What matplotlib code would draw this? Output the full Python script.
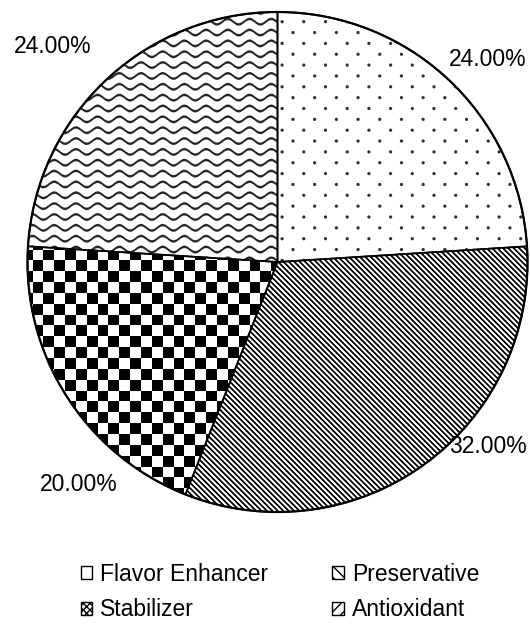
import numpy as np
import matplotlib.pyplot as plt
from matplotlib.patches import Patch, Circle

# slice data
categories = ["Flavor Enhancer", "Preservative", "Stabilizer", "Antioxidant"]
shares = [24.0, 32.0, 20.0, 24.0]

# label placement: angle shift from slice middle (deg), distance from centre (px)
label_shift = [-2.8, 12.7, 15.8, 3.0]
label_dist = [292, 280, 298, 312]

W, H = 530, 626
plt.rcParams['font.family'] = ['Liberation Sans', 'DejaVu Sans']
FS = 16.5

fig = plt.figure(figsize=(W / 100, H / 100), dpi=100)
ax = fig.add_axes([0, 0, 1, 1])

cx, cy, R = 277.5, H - 262, 250
wedges, _ = ax.pie(shares, center=(cx, cy), radius=R, startangle=90,
                   counterclock=False, colors=['white'] * 4, frame=True,
                   wedgeprops=dict(edgecolor='black', linewidth=1.2))
ax.set_xlim(0, W)
ax.set_ylim(0, H)
ax.axis('off')

# fill textures, built in pixel space (y down)
yy, xx = np.mgrid[0:H, 0:W] + 0.5
p = 10.85

# dotted
row = np.round(yy / p)
shift = (row % 2) * p
dx = ((xx - shift + p) % (2 * p)) - p
dy = yy - row * p
dots = np.clip(2.1 - np.hypot(dx, dy), 0, 1) * 0.8

# downward diagonal stripes
diag = np.clip(0.4 + 0.8 * np.cos(2 * np.pi * (xx - yy) / 5.42), 0, 1)

# checkerboard
checker = ((np.floor(xx / p) + np.floor(yy / p)) % 2).astype(float)

# waves
ph = (xx / (2 * p)) % 1.0
tri = np.cos(2 * np.pi * ph)
yc = yy - 2.7 * tri
m = ((yc + p / 2) % p) - p / 2
wave = np.clip(1.6 - np.abs(m) * 0.9, 0, 1) * 0.85

textures = [dots, diag, checker, wave]

for w, tex in zip(wedges, textures):
    g = 1 - tex
    img = np.dstack([g, g, g])
    im = ax.imshow(img, extent=(0, W, 0, H), origin='upper',
                   interpolation='nearest', zorder=2)
    im.set_clip_path(w)
    w.set_facecolor('none')
    w.set_zorder(3)

# slightly heavier outer rim
ax.add_patch(Circle((cx, cy), R, fill=False, edgecolor='black',
                    linewidth=1.6, zorder=3))

ax.set_xlim(0, W)
ax.set_ylim(0, H)

# percent labels outside the slices
for w, v, s, d in zip(wedges, shares, label_shift, label_dist):
    mid = np.deg2rad((w.theta1 + w.theta2) / 2 + s)
    ax.text(cx + d * np.cos(mid), cy + d * np.sin(mid), f"{v:.2f}%",
            ha='center', va='center', fontsize=FS, zorder=4)

# legend fills row by row: reorder for matplotlib's column-first layout
hatches = ['', '\\\\\\', 'xxxxx', '///']
handles = [Patch(facecolor='white', edgecolor='black', hatch=h, linewidth=1.0)
           for h in hatches]
order = [0, 2, 1, 3]
fig.legend([handles[i] for i in order], [categories[i] for i in order],
           ncol=2, loc='center',
           bbox_to_anchor=(280 / W, 1 - 592 / H), frameon=False, fontsize=FS,
           handlelength=0.5, handleheight=0.5, handletextpad=0.35,
           columnspacing=2.8, labelspacing=0.55)

fig.savefig('out.png', dpi=100)
